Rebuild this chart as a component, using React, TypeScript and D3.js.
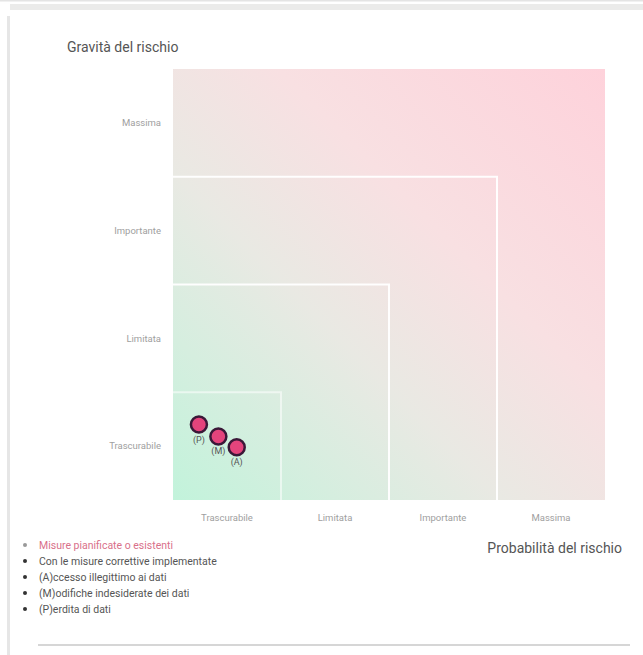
import { useEffect, useRef } from 'react'
import * as d3 from 'd3'

const LEVELS = ['Trascurabile', 'Limitata', 'Importante', 'Massima']
const RISK_IDS = ['P', 'M', 'A']
const RISK_PROB = [0.74, 0.92, 1.09]
const RISK_GRAV = [1.2, 1.09, 0.99]
const LEGEND = [
  'Misure pianificate o esistenti',
  'Con le misure correttive implementate',
  '(A)ccesso illegittimo ai dati',
  '(M)odifiche indesiderate dei dati',
  '(P)erdita di dati',
]

export default function App() {
  const ref = useRef<SVGSVGElement>(null)

  useEffect(() => {
    const svg = d3.select(ref.current)
    svg.selectAll('*').remove()

    const width = 643
    const height = 655
    const margin = { top: 69, right: 38, bottom: 155, left: 173 }
    svg.attr('viewBox', `0 0 ${width} ${height}`)

    const x = d3.scaleLinear().domain([0.5, 4.5]).range([margin.left, width - margin.right])
    const y = d3.scaleLinear().domain([0.5, 4.5]).range([height - margin.bottom, margin.top])

    // frame
    svg.append('rect').attr('x', 0).attr('y', 0).attr('width', width).attr('height', 1.5).attr('fill', '#e4e4e4')
    svg.append('rect').attr('x', 10).attr('y', 4).attr('width', width - 10).attr('height', 6).attr('fill', '#ebebea')
    svg.append('rect').attr('x', 7).attr('y', 16).attr('width', 3).attr('height', height - 16).attr('fill', '#e6e6e6')
    svg.append('rect').attr('x', 38).attr('y', 644).attr('width', 592).attr('height', 2).attr('fill', '#d6d6d6')

    const defs = svg.append('defs')
    const grad = defs.append('linearGradient')
      .attr('id', 'riskGrad')
      .attr('x1', 0).attr('y1', 1).attr('x2', 1).attr('y2', 0)
    grad.append('stop').attr('offset', '0%').attr('stop-color', '#c2f3db')
    grad.append('stop').attr('offset', '38%').attr('stop-color', '#e9e9e3')
    grad.append('stop').attr('offset', '62%').attr('stop-color', '#f8e0e2')
    grad.append('stop').attr('offset', '100%').attr('stop-color', '#fed2db')

    svg.append('rect')
      .attr('x', x(0.5)).attr('y', y(4.5))
      .attr('width', x(4.5) - x(0.5)).attr('height', y(0.5) - y(4.5))
      .attr('fill', 'url(#riskGrad)')

    // nested squares
    const levels = [1, 2, 3]
    svg.selectAll('.sq')
      .data(levels)
      .join('path')
      .attr('class', 'sq')
      .attr('d', k => `M${x(0.5)},${y(k + 0.5)}H${x(k + 0.5)}V${y(0.5)}`)
      .attr('fill', 'none')
      .attr('stroke', '#ffffff')
      .attr('stroke-opacity', k => (k === 1 ? 0.55 : 0.95))
      .attr('stroke-width', 2)

    // axis tick labels
    svg.selectAll('.ytick')
      .data(LEVELS)
      .join('text')
      .attr('class', 'ytick')
      .attr('x', x(0.5) - 12)
      .attr('y', (_, i) => y(i + 1))
      .attr('dy', '0.35em')
      .attr('text-anchor', 'end')
      .attr('font-size', 9.5)
      .attr('fill', '#a0a0a0')
      .text(d => d)

    svg.selectAll('.xtick')
      .data(LEVELS)
      .join('text')
      .attr('class', 'xtick')
      .attr('x', (_, i) => x(i + 1))
      .attr('y', y(0.5) + 18)
      .attr('dy', '0.35em')
      .attr('text-anchor', 'middle')
      .attr('font-size', 9.5)
      .attr('fill', '#a0a0a0')
      .text(d => d)

    svg.append('text')
      .attr('x', 67).attr('y', 52)
      .attr('font-size', 14).attr('fill', '#555')
      .text('Gravità del rischio')

    svg.append('text')
      .attr('x', 622).attr('y', 553)
      .attr('text-anchor', 'end')
      .attr('font-size', 14).attr('fill', '#555')
      .text('Probabilità del rischio')

    // risk points
    const pts = RISK_IDS.map((id, i) => ({ id, p: RISK_PROB[i], g: RISK_GRAV[i] }))
    svg.selectAll('.pt')
      .data(pts)
      .join('circle')
      .attr('class', 'pt')
      .attr('cx', d => x(d.p))
      .attr('cy', d => y(d.g))
      .attr('r', 8)
      .attr('fill', '#e4447c')
      .attr('stroke', '#3b1838')
      .attr('stroke-width', 2.5)

    svg.selectAll('.ptl')
      .data(pts)
      .join('text')
      .attr('class', 'ptl')
      .attr('x', d => x(d.p))
      .attr('y', d => y(d.g) + 18)
      .attr('text-anchor', 'middle')
      .attr('font-size', 9)
      .attr('fill', '#555')
      .text(d => `(${d.id})`)

    // legend
    const lg = svg.append('g').attr('transform', 'translate(25,545)')
    LEGEND.forEach((t, i) => {
      lg.append('circle').attr('cx', 0).attr('cy', i * 16).attr('r', 2)
        .attr('fill', i === 0 ? '#999' : '#333')
      lg.append('text')
        .attr('x', 14).attr('y', i * 16).attr('dy', '0.35em')
        .attr('font-size', 10.5)
        .attr('fill', i === 0 ? '#d9708a' : '#555')
        .text(t)
    })
  }, [])

  return (
    <svg
      ref={ref}
      width={643}
      height={655}
      style={{ position: 'absolute', left: 0, top: 0, fontFamily: 'Roboto, sans-serif' }}
    />
  )
}
